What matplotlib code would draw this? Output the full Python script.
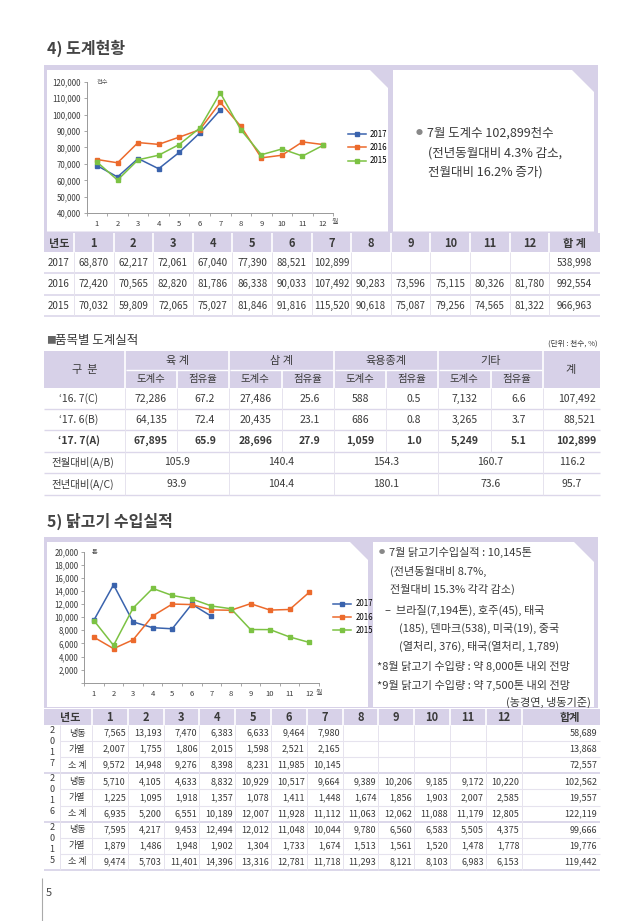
import numpy as np
import matplotlib
matplotlib.use("Agg")
import matplotlib.pyplot as plt
from matplotlib.patches import Rectangle, Polygon
from matplotlib.ticker import FuncFormatter, MultipleLocator

plt.rcParams["font.family"] = ["Noto Sans CJK KR", "DejaVu Sans"]

# ---- 데이터 ----
months = list(range(1, 13))
years = ["2017", "2016", "2015"]

# 도계현황 표 (천수)
slaughter_2017 = [68870, 62217, 72061, 67040, 77390, 88521, 102899]
slaughter_2016 = [72420, 70565, 82820, 81786, 86338, 90033, 107492, 90283, 73596, 75115, 80326, 81780]
slaughter_2015 = [70032, 59809, 72065, 75027, 81846, 91816, 115520, 90618, 75087, 79256, 74565, 81322]
slaughter_total = [538998, 992554, 966963]

# 도계현황 그래프
chart1_2017 = [69000, 62100, 73300, 67100, 77000, 88800, 102800]
chart1_2016 = [72700, 70700, 83000, 81900, 86300, 90800, 107400, 92900, 73700, 75300, 83400, 81800]
chart1_2015 = [71200, 60200, 72500, 75300, 81800, 91800, 113200, 90800, 75600, 79100, 74800, 81300]

# 품목별 도계실적
t2_labels = ["\u201816. 7(C)", "\u201817. 6(B)", "\u201817. 7(A)"]
t2_groups = ["육 계", "삼 계", "육용종계", "기타"]
broiler_cnt = [72286, 64135, 67895]
broiler_pct = [67.2, 72.4, 65.9]
samgye_cnt = [27486, 20435, 28696]
samgye_pct = [25.6, 23.1, 27.9]
breeder_cnt = [588, 686, 1059]
breeder_pct = [0.5, 0.8, 1.0]
other_cnt = [7132, 3265, 5249]
other_pct = [6.6, 3.7, 5.1]
t2_total = [107492, 88521, 102899]
mom_ratio = [105.9, 140.4, 154.3, 160.7, 116.2]
yoy_ratio = [93.9, 104.4, 180.1, 73.6, 95.7]

# 닭고기 수입실적 (톤)
frozen_2017 = [7565, 13193, 7470, 6383, 6633, 9464, 7980]
heated_2017 = [2007, 1755, 1806, 2015, 1598, 2521, 2165]
sub_2017 = [9572, 14948, 9276, 8398, 8231, 11985, 10145]
frozen_2016 = [5710, 4105, 4633, 8832, 10929, 10517, 9664, 9389, 10206, 9185, 9172, 10220]
heated_2016 = [1225, 1095, 1918, 1357, 1078, 1411, 1448, 1674, 1856, 1903, 2007, 2585]
sub_2016 = [6935, 5200, 6551, 10189, 12007, 11928, 11112, 11063, 12062, 11088, 11179, 12805]
frozen_2015 = [7595, 4217, 9453, 12494, 12012, 11048, 10044, 9780, 6560, 6583, 5505, 4375]
heated_2015 = [1879, 1486, 1948, 1902, 1304, 1733, 1674, 1513, 1561, 1520, 1478, 1778]
sub_2015 = [9474, 5703, 11401, 14396, 13316, 12781, 11718, 11293, 8121, 8103, 6983, 6153]
import_totals = [[58689, 13868, 72557], [102562, 19557, 122119], [99666, 19776, 119442]]
import_types = ["냉동", "가열", "소 계"]

# 수입실적 그래프
chart2_2017 = sub_2017
chart2_2016 = [6935, 5200, 6551, 10189, 12007, 11928, 11112, 11063, 12062, 11088, 11179, 13800]
chart2_2015 = sub_2015

# ---- 스타일 ----
W, H = 640, 921
TXT = "#3a3a3a"
LAV = "#d7d1e8"
LINE = "#dcd7ea"
FAINT = "#e6e3ee"
C17, C16, C15 = "#3a63ad", "#ec6a2c", "#7cc243"

fig = plt.figure(figsize=(W / 100, H / 100), dpi=100)
fig.patch.set_facecolor("white")
bg = fig.add_axes([0, 0, 1, 1])
bg.set_xlim(0, W)
bg.set_ylim(H, 0)
bg.axis("off")


def rect(x0, y0, x1, y1, color):
    bg.add_patch(Rectangle((x0, y0), x1 - x0, y1 - y0, facecolor=color, edgecolor="none"))


def hline(y, x0, x1, color=LINE, lw=1.0):
    bg.plot([x0, x1], [y, y], color=color, lw=lw, solid_capstyle="butt")


def vline(x, y0, y1, color=FAINT, lw=0.7):
    bg.plot([x, x], [y0, y1], color=color, lw=lw, solid_capstyle="butt")


def txt(x, y, s, size=7, ha="center", weight="normal", color=TXT):
    bg.text(x, y, s, fontsize=size, ha=ha, va="center", fontweight=weight, color=color)


def panel(l, t, r, b, cut):
    bg.add_patch(Polygon([(l, t), (r - cut, t), (r, t + cut), (r, b), (l, b)],
                         closed=True, facecolor="white", edgecolor="none"))


def line_chart(px, ylim, step, series, hide_zero=False):
    x0, y0, x1, y1 = px
    ax = fig.add_axes([x0 / W, 1 - y1 / H, (x1 - x0) / W, (y1 - y0) / H])
    ax.patch.set_alpha(0)
    for vals, color, label in series:
        ax.plot(months[:len(vals)], vals, color=color, lw=1.1, marker="s", ms=3.4, label=label)
    ax.set_xlim(0.5, 12.5)
    ax.set_ylim(*ylim)
    ax.set_xticks(months)
    ax.set_xticks(np.arange(0.5, 13, 1), minor=True)
    ax.tick_params(axis="x", which="major", length=0, labelsize=5.5, pad=5, labelcolor=TXT)
    ax.tick_params(axis="x", which="minor", length=2.5, color="#999999", width=0.6)
    ax.yaxis.set_major_locator(MultipleLocator(step))
    ax.yaxis.set_major_formatter(FuncFormatter(
        lambda v, p: "" if (hide_zero and v == 0) else f"{v:,.0f}"))
    ax.tick_params(axis="y", length=2.5, width=0.6, color="#999999", labelsize=5.7, pad=1.5,
                   labelcolor=TXT)
    for s in ["top", "right"]:
        ax.spines[s].set_visible(False)
    for s in ["left", "bottom"]:
        ax.spines[s].set_color("#999999")
        ax.spines[s].set_linewidth(0.7)
    ax.legend(loc="center left", bbox_to_anchor=(1.03, 0.5), frameon=False, fontsize=5.7,
              handlelength=2.3, labelspacing=0.55, handletextpad=0.5, markerscale=0.9)
    return ax


# ================= 4) 도계현황 =================
txt(47, 48, "4) 도계현황", size=11.5, ha="left", weight="bold", color="#444444")

rect(44, 65, 598, 233, LAV)
panel(47, 70, 388, 231.5, 18)
panel(393, 70, 594, 231.5, 22)

line_chart((86.7, 81.7, 333.3, 213.3), (40000, 120000), 10000,
           [(chart1_2017, C17, "2017"), (chart1_2016, C16, "2016"), (chart1_2015, C15, "2015")])
txt(97, 82, "천수", size=4.5, ha="left", color="#555555")
txt(332, 222, "월", size=5, ha="left", color="#555555")

txt(419, 133, "●", size=5, color="#888888")
txt(427, 133, "7월 도계수 102,899천수", size=9, ha="left")
txt(428, 153, "(전년동월대비 4.3% 감소,", size=9, ha="left")
txt(428, 172, "전월대비 16.2% 증가)", size=9, ha="left")

# 표 1
e1 = [44] + [74 + 39.6 * i for i in range(13)] + [600]
c1 = [(a + b) / 2 for a, b in zip(e1[:-1], e1[1:])]
rect(44, 233, 600, 252, LAV)
for x in e1[1:-1]:
    vline(x, 233, 252, color="white", lw=1.2)
for x, s in zip(c1, ["년도"] + [str(m) for m in months] + ["합 계"]):
    txt(x, 243, s, size=8, weight="bold")

rows1 = [252, 273, 295, 316]
for r, (yr, vals, tot) in enumerate(zip(years, [slaughter_2017, slaughter_2016, slaughter_2015],
                                          slaughter_total)):
    yc = (rows1[r] + rows1[r + 1]) / 2
    txt(c1[0], yc, yr, size=7)
    for i, v in enumerate(vals):
        txt(c1[i + 1], yc, f"{v:,}", size=7)
    txt(c1[-1], yc, f"{tot:,}", size=7)
    hline(rows1[r + 1], 44, 600, lw=1.2)
for x in e1[1:-1]:
    vline(x, 252, 316)

# ================= 품목별 도계실적 =================
txt(46, 340, "■", size=7, ha="left", color="#666666")
txt(55, 340, "품목별 도계실적", size=9, ha="left")
txt(598, 344, "(단위 : 천수, %)", size=5.5, ha="right")

e2 = [44, 125, 177, 229, 281.5, 334, 386, 438, 490.5, 543, 600]
c2 = [(a + b) / 2 for a, b in zip(e2[:-1], e2[1:])]
rect(44, 351, 600, 388, LAV)
for k in range(4):
    gx0, gx1 = e2[1 + 2 * k], e2[3 + 2 * k]
    txt((gx0 + gx1) / 2, 360.5, t2_groups[k], size=8)
    txt(c2[1 + 2 * k], 379, "도계수", size=7.5)
    txt(c2[2 + 2 * k], 379, "점유율", size=7.5)
    vline(e2[2 + 2 * k], 370, 388, color="white", lw=1.2)
    hline(370, gx0 + 1, gx1 - 1, color="white", lw=1.0)
for x in [e2[1], e2[3], e2[5], e2[7], e2[9]]:
    vline(x, 351, 388, color="white", lw=1.2)
txt(85, 369.5, "구  분", size=8)
txt(571, 369.5, "계", size=8)

rows2 = [388, 409, 430, 451.5, 473, 494.5]
cnt_cols = [broiler_cnt, samgye_cnt, breeder_cnt, other_cnt]
pct_cols = [broiler_pct, samgye_pct, breeder_pct, other_pct]
for r in range(3):
    yc = (rows2[r] + rows2[r + 1]) / 2
    w = "bold" if r == 2 else "normal"
    txt(79, yc, t2_labels[r], size=7.5, weight=w)
    for k in range(4):
        txt(c2[1 + 2 * k], yc, f"{cnt_cols[k][r]:,}", size=7.5, weight=w)
        txt(c2[2 + 2 * k] + 2, yc, f"{pct_cols[k][r]:.1f}", size=7.5, weight=w)
    txt(596, yc, f"{t2_total[r]:,}", size=7.5, ha="right", weight=w)
for r, (lab, vals) in enumerate(zip(["전월대비(A/B)", "전년대비(A/C)"], [mom_ratio, yoy_ratio])):
    yc = (rows2[r + 3] + rows2[r + 4]) / 2
    txt(83, yc, lab, size=7.5)
    for k in range(4):
        txt((e2[1 + 2 * k] + e2[3 + 2 * k]) / 2, yc, f"{vals[k]:.1f}", size=7.5)
    txt(572, yc, f"{vals[4]:.1f}", size=7.5)
for y in rows2[1:]:
    hline(y, 44, 600, lw=1.0)
for x in e2[1:-1]:
    vline(x, 388, rows2[3])
for x in [e2[1], e2[3], e2[5], e2[7], e2[9]]:
    vline(x, rows2[3], rows2[5])

# ================= 5) 닭고기 수입실적 =================
txt(47, 521, "5) 닭고기 수입실적", size=11.5, ha="left", weight="bold", color="#444444")

rect(44, 537, 598, 708, LAV)
panel(47, 542, 368, 707, 18)
panel(373, 542, 594, 707, 20)

line_chart((84.2, 551.7, 319, 682.7), (0, 20000), 2000,
           [(chart2_2017, C17, "2017"), (chart2_2016, C16, "2016"), (chart2_2015, C15, "2015")],
           hide_zero=True)
txt(92, 552, "톤", size=4.5, ha="left", color="#555555")
txt(316, 693, "월", size=5, ha="left", color="#555555")

txt(382, 552, "●", size=4.5, color="#888888")
txt(389, 552, "7월 닭고기수입실적 : 10,145톤", size=8, ha="left")
txt(390, 571, "(전년동월대비 8.7%,", size=8, ha="left")
txt(390, 589, "전월대비 15.3% 각각 감소)", size=8, ha="left")
txt(385, 610, "–  브라질(7,194톤), 호주(45), 태국", size=8, ha="left")
txt(399, 628, "(185), 덴마크(538), 미국(19), 중국", size=8, ha="left")
txt(399, 646, "(열처리, 376), 태국(열처리, 1,789)", size=8, ha="left")
txt(377, 666, "*8월 닭고기 수입량 : 약 8,000톤 내외 전망", size=8, ha="left")
txt(377, 685, "*9월 닭고기 수입량 : 약 7,500톤 내외 전망", size=8, ha="left")
txt(591, 702, "(농경연, 냉동기준)", size=8, ha="right")

# 표 3
e3 = [44, 60] + [92 + 35.8 * i for i in range(13)] + [600]
rect(44, 709, 600, 725, LAV)
for x in e3[2:-1]:
    vline(x, 709, 725, color="white", lw=1.2)
txt(70, 717, "년도", size=8, weight="bold")
for i, m in enumerate(months):
    txt((e3[2 + i] + e3[3 + i]) / 2, 717, str(m), size=8, weight="bold")
txt(570, 717, "합계", size=8, weight="bold")

groups3 = [[frozen_2017, heated_2017, sub_2017],
           [frozen_2016, heated_2016, sub_2016],
           [frozen_2015, heated_2015, sub_2015]]
rh = 16.1
for g, yr in enumerate(years):
    top = 725 + 3 * rh * g
    for k, d in enumerate(yr):
        txt(52, top + 5.5 + 11 * k, d, size=6.5)
    for r in range(3):
        yc = top + rh * (r + 0.5)
        txt(77, yc, import_types[r], size=6.5)
        for i, v in enumerate(groups3[g][r]):
            txt(e3[3 + i] - 2, yc, f"{v:,}", size=6.5, ha="right")
        txt(597, yc, f"{import_totals[g][r]:,}", size=6.5, ha="right")
        if r < 2:
            hline(top + rh * (r + 1), 60, 600, color=FAINT, lw=0.8)
    hline(top + 3 * rh, 44, 600, color=LINE, lw=1.4)
for x in e3[1:-1]:
    vline(x, 725, 725 + 9 * rh)

# 쪽 번호
vline(42, 878, 921, color="#aaaaaa", lw=0.8)
txt(46, 893, "5", size=8, ha="left", color="#444444")

fig.savefig("out.png", dpi=100, facecolor="white")
